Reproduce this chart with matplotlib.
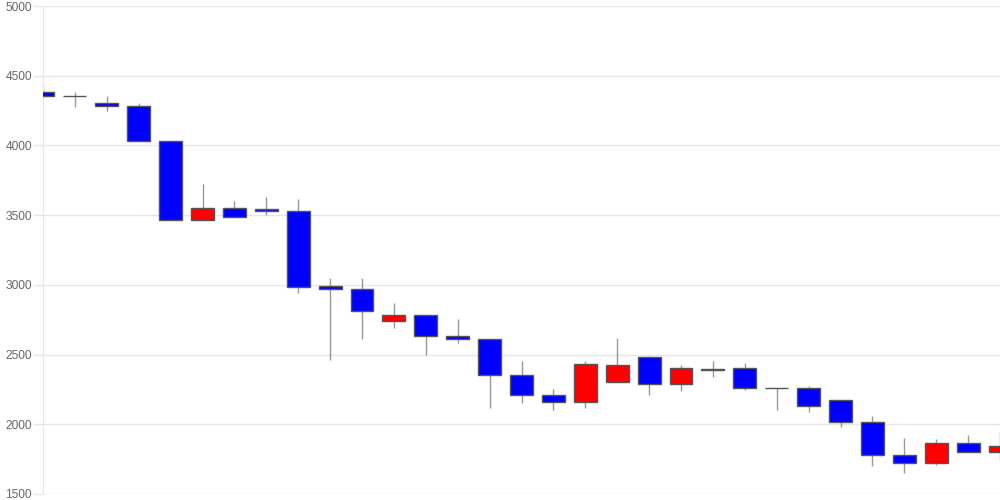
import matplotlib
matplotlib.use("Agg")
import matplotlib.pyplot as plt
import numpy as np

opens  = [4381, 4352, 4304, 4283, 4032, 3463, 3551, 3542, 3532, 2992,
          2972, 2739, 2784, 2631, 2612, 2351, 2212, 2160, 2301, 2480,
          2291, 2400, 2402, 2260, 2263, 2172, 2019, 1782, 1720, 1863, 1801]
closes = [4352, 4352, 4281, 4030, 3463, 3553, 3489, 3530, 2987, 2970,
          2810, 2784, 2631, 2610, 2351, 2210, 2160, 2433, 2423, 2291,
          2402, 2392, 2258, 2260, 2129, 2019, 1782, 1720, 1863, 1801, 1842]
highs  = [4433, 4385, 4352, 4302, 4032, 3723, 3601, 3630, 3614, 3051,
          3051, 2870, 2784, 2753, 2612, 2452, 2251, 2452, 2621, 2490,
          2423, 2452, 2437, 2260, 2273, 2172, 2059, 1902, 1892, 1921, 1952]
lows   = [4350, 4273, 4249, 4030, 3463, 3463, 3489, 3501, 2940, 2461,
          2610, 2691, 2499, 2581, 2119, 2150, 2103, 2119, 2301, 2212,
          2241, 2341, 2246, 2100, 2090, 1983, 1701, 1653, 1710, 1801, 1741]
y_ticks = [1500, 2000, 2500, 3000, 3500, 4000, 4500, 5000]

fig = plt.figure(figsize=(10, 5), dpi=100)
ax = fig.add_axes([0.043, 0.012, 0.957, 0.976])

x = np.arange(len(opens))
o = np.array(opens); c = np.array(closes)
colors = ['#ff0000' if cc > oo else '#0000ff' for oo, cc in zip(o, c)]
ax.vlines(x, lows, highs, color='#999999', linewidth=1, zorder=2)
bottoms = np.minimum(o, c)
heights = np.abs(c - o)
ax.bar(x, heights, bottom=bottoms, width=0.72, color=colors,
       edgecolor='#555555', linewidth=1, zorder=3)

ax.set_xlim(0, len(opens) - 1)
ax.set_ylim(1500, 5000)
ax.set_yticks(y_ticks)
ax.set_yticklabels([str(v) for v in y_ticks], fontfamily='Liberation Sans',
                   fontsize=8.6, color='#666666')
ax.set_xticks([])
ax.grid(axis='y', color='#e6e6e6', linewidth=1, zorder=0)
ax.set_axisbelow(True)
for s in ['top', 'right', 'bottom']:
    ax.spines[s].set_visible(False)
ax.spines['left'].set_color('#e6e6e6')
ax.tick_params(axis='y', length=7, width=1, color='#e6e6e6', pad=1)

fig.savefig('out.png', dpi=100)
